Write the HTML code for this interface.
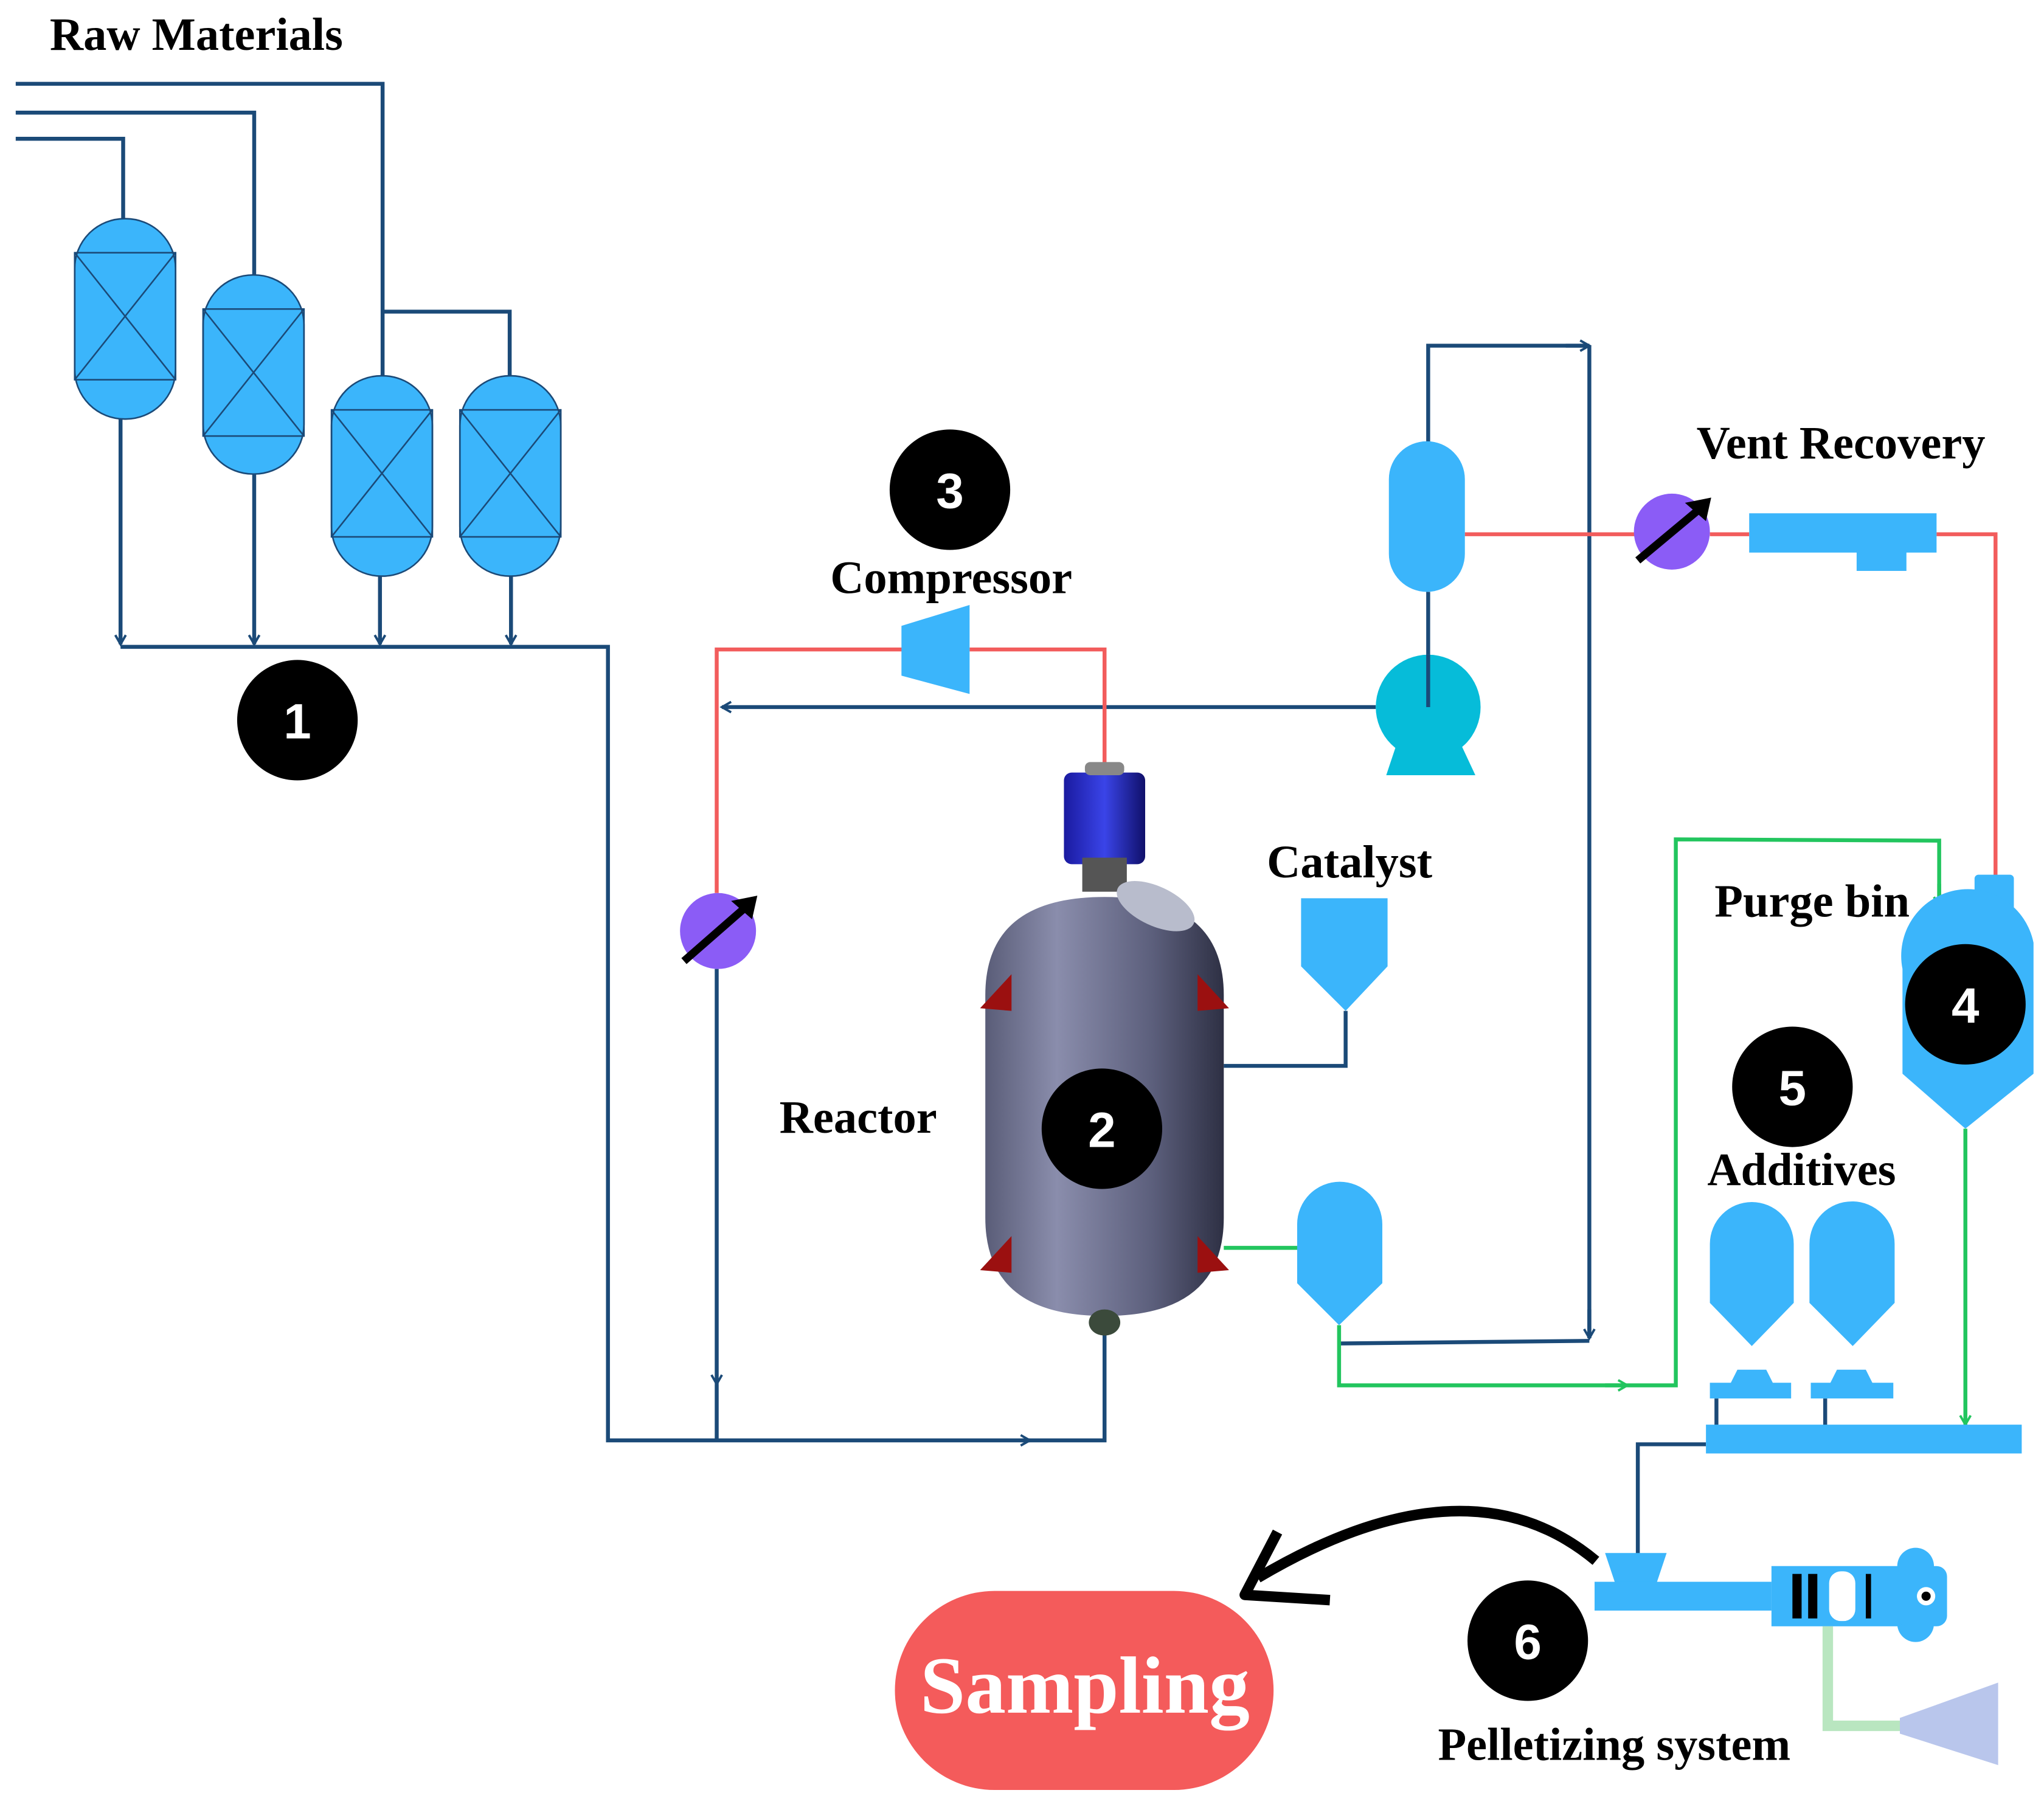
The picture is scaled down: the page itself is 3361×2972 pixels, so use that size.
<!DOCTYPE html>
<html><head><meta charset="utf-8"><style>
html,body{margin:0;padding:0;background:#fff}
svg{display:block}
text{font-family:"Liberation Serif",serif;font-weight:bold}
text.n{font-family:"Liberation Sans",sans-serif}
</style></head><body>
<svg width="3361" height="2972" viewBox="0 0 1560 1380" preserveAspectRatio="none" xmlns="http://www.w3.org/2000/svg">
<defs>
<marker id="ab" markerWidth="10" markerHeight="10" refX="8" refY="5" orient="auto" markerUnits="userSpaceOnUse"><path d="M1,1 L8,5 L1,9" fill="none" stroke="#1b4a78" stroke-width="1.8"/></marker>
<marker id="ag" markerWidth="10" markerHeight="10" refX="8" refY="5" orient="auto" markerUnits="userSpaceOnUse"><path d="M1,1 L8,5 L1,9" fill="none" stroke="#22c55e" stroke-width="1.8"/></marker>
<linearGradient id="rg" x1="0" x2="1"><stop offset="0" stop-color="#5a5d78"/><stop offset="0.3" stop-color="#8a8dac"/><stop offset="0.7" stop-color="#5c5f7c"/><stop offset="1" stop-color="#2e3044"/></linearGradient>
<linearGradient id="mg" x1="0" x2="1"><stop offset="0" stop-color="#1a1aa0"/><stop offset="0.5" stop-color="#3a44e8"/><stop offset="1" stop-color="#10106a"/></linearGradient>
</defs>
<g fill="none" stroke="#1b4a78" stroke-width="3">
<polyline points="12,64 292,64 292,290"/>
<polyline points="12,86 194,86 194,210"/>
<polyline points="12,106 94,106 94,167"/>
<polyline points="292,238 389,238 389,287"/>
<line x1="92" y1="320" x2="92" y2="492" marker-end="url(#ab)"/>
<line x1="194" y1="362" x2="194" y2="492" marker-end="url(#ab)"/>
<line x1="290" y1="440" x2="290" y2="492" marker-end="url(#ab)"/>
<line x1="390" y1="440" x2="390" y2="492" marker-end="url(#ab)"/>
<polyline points="92,494 464,494 464,1100 785,1100"/>
<polyline points="780,1100 843,1100 843,1015"/>
<line x1="785" y1="1100" x2="786" y2="1100" marker-end="url(#ab)"/>
<line x1="1050" y1="540" x2="551" y2="540" marker-end="url(#ab)"/>
<line x1="547" y1="740" x2="547" y2="1057" marker-end="url(#ab)"/>
<line x1="547" y1="1057" x2="547" y2="1100"/>
<polyline points="1027,772 1027,814 934,814"/>
<polyline points="1090,340 1090,264 1213,264"/>
<line x1="1195" y1="264" x2="1213" y2="264" marker-end="url(#ab)"/>
<polyline points="1213,264 1213,1022"/>
<line x1="1213" y1="1000" x2="1213" y2="1022" marker-end="url(#ab)"/>
<polyline points="1022,1026 1213,1024"/>
<line x1="1090" y1="452" x2="1090" y2="540"/>
<polyline points="1302,1103 1250,1103 1250,1190"/>
<line x1="1310" y1="1068" x2="1310" y2="1090"/>
<line x1="1393" y1="1068" x2="1393" y2="1090"/>
</g>
<g fill="none" stroke="#f25c5c" stroke-width="3">
<polyline points="547,682 547,496 690,496"/>
<polyline points="740,496 843,496 843,592"/>
<line x1="1118" y1="408" x2="1248" y2="408"/>
<line x1="1305" y1="408" x2="1335" y2="408"/>
<polyline points="1478,408 1523,408 1523,670"/>
</g>
<g fill="none" stroke="#22c55e" stroke-width="3">
<line x1="934" y1="953" x2="992" y2="953"/>
<polyline points="1022,1012 1022,1058 1240,1058"/>
<line x1="1225" y1="1058" x2="1242" y2="1058" marker-end="url(#ag)"/>
<polyline points="1242,1058 1279,1058 1279,641 1480,642 1480,690"/>
<line x1="1480" y1="675" x2="1480" y2="692" marker-end="url(#ag)"/>
<line x1="1500" y1="862" x2="1500" y2="1088" marker-end="url(#ag)"/>
</g>
<g fill="#3bb5fb" stroke="#1b4a78" stroke-width="1.2">
<rect x="57" y="167" width="77" height="153" rx="38"/>
<rect x="155" y="210" width="77" height="152" rx="38"/>
<rect x="253" y="287" width="77" height="153" rx="38"/>
<rect x="351" y="287" width="77" height="153" rx="38"/>
</g>
<g fill="none" stroke="#1b4a78" stroke-width="1.2">
<rect x="57" y="193" width="77" height="97"/><path d="M57,193 L134,290 M134,193 L57,290"/>
<rect x="155" y="236" width="77" height="97"/><path d="M155,236 L232,333 M232,236 L155,333"/>
<rect x="253" y="313" width="77" height="97"/><path d="M253,313 L330,410 M330,313 L253,410"/>
<rect x="351" y="313" width="77" height="97"/><path d="M351,313 L428,410 M428,313 L351,410"/>
</g>
<polygon points="688,478 740,462 740,530 688,516" fill="#3bb5fb"/>
<g fill="#3bb5fb">
<rect x="1060" y="337" width="58" height="115" rx="29"/>
<rect x="1335" y="392" width="143" height="30"/><rect x="1417" y="420" width="38" height="16"/>
<path d="M993,686 H1059 V738 L1027,772 L993,738 Z"/>
<path d="M990,935 A32,32 0 0 1 1055,935 V980 L1022,1012 L990,980 Z"/>
<rect x="1507" y="668" width="30" height="34" rx="3"/>
<path d="M1452,740 A50,50 0 0 1 1552,720 V820 L1500,862 L1452,820 Z"/>
<path d="M1305,950 A32,32 0 0 1 1369,950 V995 L1337,1028 L1305,995 Z"/>
<path d="M1381,950 A32,32 0 0 1 1446,950 V995 L1414,1028 L1381,995 Z"/>
<path d="M1326,1046 H1348 L1354,1058 H1320 Z"/><rect x="1305" y="1056" width="62" height="12"/>
<path d="M1402,1046 H1424 L1430,1058 H1396 Z"/><rect x="1382" y="1056" width="63" height="12"/>
<rect x="1302" y="1088" width="241" height="22"/>
<path d="M1225,1186 H1272 L1264,1210 H1233 Z"/>
<rect x="1217" y="1208" width="135" height="22"/>
<rect x="1352" y="1196" width="98" height="46"/>
<circle cx="1462" cy="1196" r="14"/><circle cx="1462" cy="1240" r="14"/><rect x="1448" y="1196" width="38" height="46" rx="8"/>
</g>
<g fill="#000"><rect x="1368" y="1202" width="7" height="34"/><rect x="1380" y="1202" width="7" height="34"/><rect x="1424" y="1202" width="4" height="34"/></g>
<rect x="1396" y="1200" width="20" height="38" rx="9" fill="#fff"/>
<circle cx="1470" cy="1219" r="7" fill="#fff"/><circle cx="1470" cy="1219" r="3.5" fill="#000"/>
<path d="M1395,1242 V1318 H1450" fill="none" stroke="#a8e0b0" stroke-width="8" opacity="0.8"/>
<path d="M1450,1312 L1525,1285 V1348 L1450,1324Z" fill="#8aa0e0" opacity="0.6"/>
<circle cx="1090" cy="540" r="40" fill="#06bcd9"/>
<path d="M1068,562 H1112 L1126,592 H1058 Z" fill="#06bcd9"/>
<line x1="1090" y1="500" x2="1090" y2="540" stroke="#1b4a78" stroke-width="3"/>
<circle cx="548" cy="711" r="29" fill="#8b5cf6"/>
<line x1="522" y1="734" x2="570" y2="692" stroke="#000" stroke-width="6"/><path d="M578,684 L558,688 L574,702 Z" fill="#000"/>
<circle cx="1276" cy="406" r="29" fill="#8b5cf6"/>
<line x1="1250" y1="428" x2="1298" y2="388" stroke="#000" stroke-width="6"/><path d="M1306,380 L1286,384 L1302,398 Z" fill="#000"/>
<rect x="812" y="590" width="62" height="70" rx="6" fill="url(#mg)"/>
<rect x="828" y="582" width="30" height="10" rx="4" fill="#888"/>
<rect x="826" y="655" width="34" height="26" fill="#555"/>
<path d="M752,760 Q752,685 843,685 Q934,685 934,760 V930 Q934,1005 843,1005 Q752,1005 752,930 Z" fill="url(#rg)"/>
<ellipse cx="882" cy="692" rx="32" ry="15" fill="#b8bccc" transform="rotate(25 882 692)"/>
<ellipse cx="843" cy="1010" rx="12" ry="10" fill="#3b4a3b"/>
<g fill="#9b1010"><path d="M748,770 L772,744 L772,772Z"/><path d="M938,770 L914,744 L914,772Z"/><path d="M748,970 L772,944 L772,972Z"/><path d="M938,970 L914,944 L914,972Z"/></g>
<g fill="#000"><circle cx="227" cy="550" r="46"/><circle cx="725" cy="374" r="46"/><circle cx="841" cy="862" r="46"/><circle cx="1500" cy="767" r="46"/><circle cx="1368" cy="830" r="46"/><circle cx="1166" cy="1253" r="46"/></g>
<g fill="#fff" font-size="38" text-anchor="middle">
<text class="n" x="227" y="564">1</text><text class="n" x="725" y="388">3</text><text class="n" x="841" y="876">2</text><text class="n" x="1500" y="781">4</text><text class="n" x="1368" y="844">5</text><text class="n" x="1166" y="1267">6</text></g>
<g fill="#000" font-size="35.5">
<text x="38" y="38">Raw Materials</text>
<text x="726" y="453" text-anchor="middle">Compressor</text>
<text x="1405" y="350" text-anchor="middle">Vent Recovery</text>
<text x="1030" y="670" text-anchor="middle">Catalyst</text>
<text x="1383" y="700" text-anchor="middle">Purge bin</text>
<text x="655" y="865" text-anchor="middle">Reactor</text>
<text x="1375" y="905" text-anchor="middle">Additives</text>
<text x="1232" y="1344" text-anchor="middle">Pelletizing system</text>
</g>
<rect x="683" y="1215" width="289" height="152" rx="76" fill="#f45b5b"/>
<text x="828" y="1308" text-anchor="middle" fill="#fff" font-size="62">Sampling</text>
<path d="M1218,1192 Q1120,1110 960,1205" fill="none" stroke="#000" stroke-width="8"/>
<path d="M975,1170 L950,1218 L1015,1222" fill="none" stroke="#000" stroke-width="8" stroke-linejoin="round"/>
</svg>
</body></html>
